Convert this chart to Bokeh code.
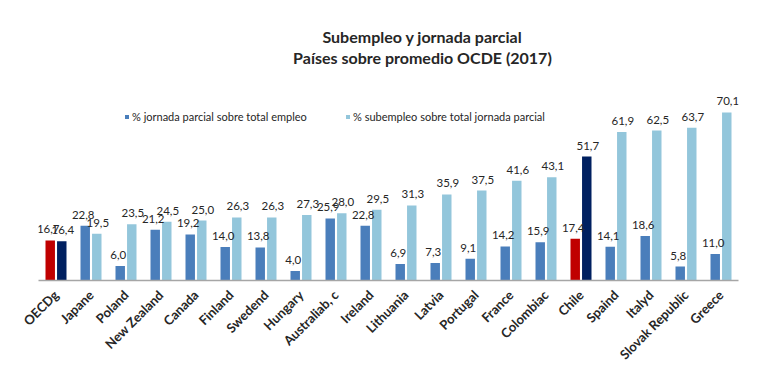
from math import pi
from bokeh.plotting import figure
from bokeh.models import ColumnDataSource, FactorRange, Label, Legend, LegendItem
from bokeh.transform import dodge
from bokeh.core.properties import value
from bokeh.embed import file_html
from bokeh.resources import INLINE

categories = ["OECDg", "Japane", "Poland", "New Zealand", "Canada", "Finland", "Swedend",
              "Hungary", "Australiab, c", "Ireland", "Lithuania", "Latvia", "Portugal",
              "France", "Colombiac", "Chile", "Spaind", "Italyd", "Slovak Republic", "Greece"]
parcial = [16.7, 22.8, 6.0, 21.2, 19.2, 14.0, 13.8, 4.0, 25.9, 22.8, 6.9, 7.3, 9.1,
           14.2, 15.9, 17.4, 14.1, 18.6, 5.8, 11.0]
subempleo = [16.4, 19.5, 23.5, 24.5, 25.0, 26.3, 26.3, 27.3, 28.0, 29.5, 31.3, 35.9, 37.5,
             41.6, 43.1, 51.7, 61.9, 62.5, 63.7, 70.1]
highlight = ["OECDg", "Chile"]
series_names = ["% jornada parcial sobre total empleo", "% subempleo sobre total jornada parcial"]
title_lines = ["Subempleo y jornada parcial", "Países sobre promedio OCDE (2017)"]

C1, C2 = "#4A7EBB", "#93C6DB"
H1, H2 = "#C00000", "#002060"

def fmt(v):
    return f"{v:.1f}".replace(".", ",")

src = ColumnDataSource(dict(
    cat=categories,
    a=parcial,
    b=subempleo,
    a_txt=[fmt(v) for v in parcial],
    b_txt=[fmt(v) for v in subempleo],
    ca=[H1 if c in highlight else C1 for c in categories],
    cb=[H2 if c in highlight else C2 for c in categories],
))

FONT = "Lato"

p = figure(x_range=FactorRange(factors=categories), y_range=(0, 108),
           width=760, height=375, output_backend="svg", toolbar_location=None,
           min_border_left=38, min_border_right=22, min_border_top=21, min_border_bottom=95)
p.outline_line_color = None
p.xgrid.visible = False
p.ygrid.visible = False
p.yaxis.visible = False

off = 0.165
w = 0.27
r1 = p.vbar(x=dodge("cat", -off, range=p.x_range), top="a", width=w, source=src,
            fill_color="ca", line_color=None)
r2 = p.vbar(x=dodge("cat", off, range=p.x_range), top="b", width=w, source=src,
            fill_color="cb", line_color=None)

p.text(x=dodge("cat", -off, range=p.x_range), y="a", text="a_txt", source=src,
       text_align="center", text_baseline="bottom", y_offset=-7, x_offset=-2,
       text_font=value(FONT), text_font_size="11.5px", text_color="#262626")
p.text(x=dodge("cat", off, range=p.x_range), y="b", text="b_txt", source=src,
       text_align="center", text_baseline="bottom", y_offset=-7, x_offset=1,
       text_font=value(FONT), text_font_size="11.5px", text_color="#262626")

ax = p.xaxis[0]
ax.major_label_orientation = pi / 4
ax.major_tick_line_color = None
ax.minor_tick_line_color = None
ax.axis_line_color = "#A6A6A6"
ax.axis_line_width = 1.5
ax.major_label_text_font = FONT
ax.major_label_text_font_style = "bold"
ax.major_label_text_font_size = "13px"
ax.major_label_text_color = "#262626"
ax.major_label_standoff = 6

for t, ty in zip(title_lines, [101.7, 92.9]):
    p.add_layout(Label(x=10.97, y=ty, text=t, text_align="center",
                       text_baseline="middle", text_font=FONT, text_font_style="bold",
                       text_font_size="16px", text_color="#262626"))

for item_label, r, loc in [(series_names[0], r1, (86, 157)),
                           (series_names[1], r2, (307, 157))]:
    lg = Legend(items=[LegendItem(label=item_label, renderers=[r], index=1)],
                location=loc, orientation="horizontal", padding=0, margin=0,
                glyph_width=5, glyph_height=5, label_height=12, label_standoff=3,
                label_text_font=FONT, label_text_font_size="11px",
                label_text_color="#262626", border_line_color=None,
                background_fill_alpha=0)
    p.add_layout(lg, "center")

open("out.html", "w").write(file_html(p, INLINE))
